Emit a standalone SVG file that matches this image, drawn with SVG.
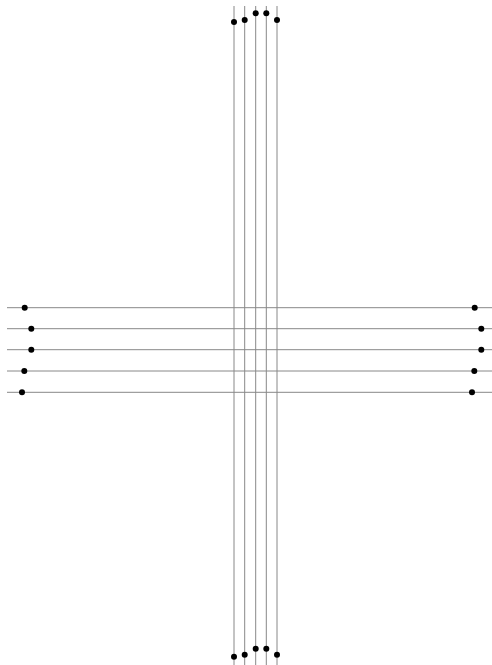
<svg xmlns="http://www.w3.org/2000/svg" width="492" height="665" viewBox="0 0 492 665">
<style>
.ln{stroke:#888;stroke-width:1;fill:none}
.dot{fill:#000}
</style>
<rect width="492" height="665" fill="#fff"/>
<g id="connectors">
<line class="ln" x1="234" y1="6" x2="234" y2="665"/>
<line class="ln" x1="244.7" y1="6" x2="244.7" y2="665"/>
<line class="ln" x1="255.7" y1="6" x2="255.7" y2="665"/>
<line class="ln" x1="266.3" y1="6" x2="266.3" y2="665"/>
<line class="ln" x1="277" y1="6" x2="277" y2="665"/>
<line class="ln" x1="7" y1="307.7" x2="492" y2="307.7"/>
<line class="ln" x1="7" y1="328.7" x2="492" y2="328.7"/>
<line class="ln" x1="7" y1="349.7" x2="492" y2="349.7"/>
<line class="ln" x1="7" y1="371" x2="492" y2="371"/>
<line class="ln" x1="7" y1="392.3" x2="492" y2="392.3"/>
</g>
<g id="v1"><circle class="dot" cx="234" cy="22" r="3"/><circle class="dot" cx="234" cy="656.7" r="3"/></g>
<g id="v2"><circle class="dot" cx="244.7" cy="20" r="3"/><circle class="dot" cx="244.7" cy="654.7" r="3"/></g>
<g id="v3"><circle class="dot" cx="255.7" cy="13.3" r="3"/><circle class="dot" cx="255.7" cy="648.7" r="3"/></g>
<g id="v4"><circle class="dot" cx="266.3" cy="13.3" r="3"/><circle class="dot" cx="266.3" cy="648.7" r="3"/></g>
<g id="v5"><circle class="dot" cx="277" cy="20" r="3"/><circle class="dot" cx="277" cy="654.7" r="3"/></g>
<g id="h1"><circle class="dot" cx="24.7" cy="307.7" r="3"/><circle class="dot" cx="474.7" cy="307.7" r="3"/></g>
<g id="h2"><circle class="dot" cx="31.3" cy="328.7" r="3"/><circle class="dot" cx="481.3" cy="328.7" r="3"/></g>
<g id="h3"><circle class="dot" cx="31.3" cy="349.7" r="3"/><circle class="dot" cx="481.3" cy="349.7" r="3"/></g>
<g id="h4"><circle class="dot" cx="24.3" cy="371" r="3"/><circle class="dot" cx="474.3" cy="371" r="3"/></g>
<g id="h5"><circle class="dot" cx="22" cy="392.3" r="3"/><circle class="dot" cx="472" cy="392.3" r="3"/></g>
</svg>
